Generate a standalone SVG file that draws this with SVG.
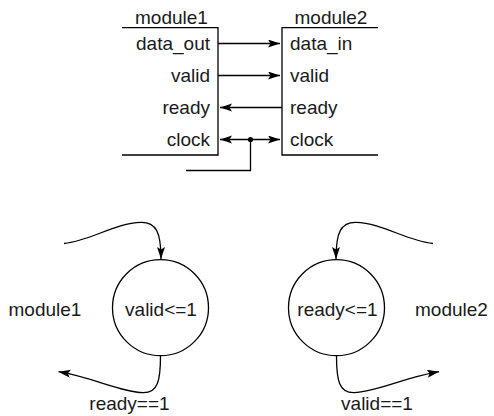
<svg xmlns="http://www.w3.org/2000/svg" width="494" height="416" viewBox="0 0 494 416">
<style>
.ln{fill:none;stroke:#000;stroke-width:1.3}
.t{font-family:"Liberation Sans",Arial,Helvetica,sans-serif;font-size:19px;fill:#1a1a1a}
.e{text-anchor:end}
.m{text-anchor:middle}
</style>
<defs>
<marker id="ah" markerUnits="userSpaceOnUse" markerWidth="13" markerHeight="9" refX="12" refY="4" orient="auto-start-reverse">
<path d="M0,0 L12,4 L0,8 L2.5,4 z" fill="#000"/>
</marker>
</defs>
<rect width="494" height="416" fill="#fff"/>
<g id="module1">
<path class="ln" d="M122,27.7 H218 V155 H122"/>
<text class="t m" x="171.5" y="24">module1</text>
<text class="t e" x="210" y="50">data_out</text>
<text class="t e" x="210" y="82">valid</text>
<text class="t e" x="210" y="114">ready</text>
<text class="t e" x="210" y="146">clock</text>
</g>
<g id="module2">
<path class="ln" d="M378,27.7 H282 V155 H378"/>
<text class="t m" x="331" y="24">module2</text>
<text class="t" x="290" y="50">data_in</text>
<text class="t" x="290" y="82">valid</text>
<text class="t" x="290" y="114">ready</text>
<text class="t" x="290" y="146">clock</text>
</g>
<g id="state1">
<circle class="ln" cx="160.5" cy="307.7" r="48"/>
<text class="t m" x="161" y="315.5">valid&lt;=1</text>
</g>
<g id="state2">
<circle class="ln" cx="336.5" cy="307.7" r="48"/>
<text class="t m" x="337.5" y="315.5">ready&lt;=1</text>
</g>
<g id="labels">
<text class="t" x="8.5" y="315.5">module1</text>
<text class="t" x="415" y="315.5">module2</text>
<text class="t m" x="129.5" y="410">ready==1</text>
<text class="t m" x="377" y="410">valid==1</text>
</g>
<g id="connectors">
<line class="ln" x1="218" y1="43.5" x2="280" y2="43.5" marker-end="url(#ah)"/>
<line class="ln" x1="218" y1="75.5" x2="280" y2="75.5" marker-end="url(#ah)"/>
<line class="ln" x1="282" y1="107.5" x2="220" y2="107.5" marker-end="url(#ah)"/>
<line class="ln" x1="220" y1="139.5" x2="280" y2="139.5" marker-start="url(#ah)" marker-end="url(#ah)"/>
<circle cx="250.5" cy="139.5" r="2.6" fill="#000"/>
<path class="ln" d="M250.5,139.5 V170.5 H186"/>
<path class="ln" d="M64,243.5 C90,241 115,223 141,222.3 C156,222 161,232 161,259" marker-end="url(#ah)"/>
<path class="ln" d="M160.5,355.7 C160.5,380 158,393 143,392.7 C120,392 95,378 58.5,371.7" marker-end="url(#ah)"/>
<path class="ln" d="M433,243.5 C407,241 382,223 356,222.3 C341,222 336,232 336,259" marker-end="url(#ah)"/>
<path class="ln" d="M336.5,355.7 C336.5,380 339,393 354,392.7 C377,392 402,378 439,371.7" marker-end="url(#ah)"/>
</g>
</svg>
